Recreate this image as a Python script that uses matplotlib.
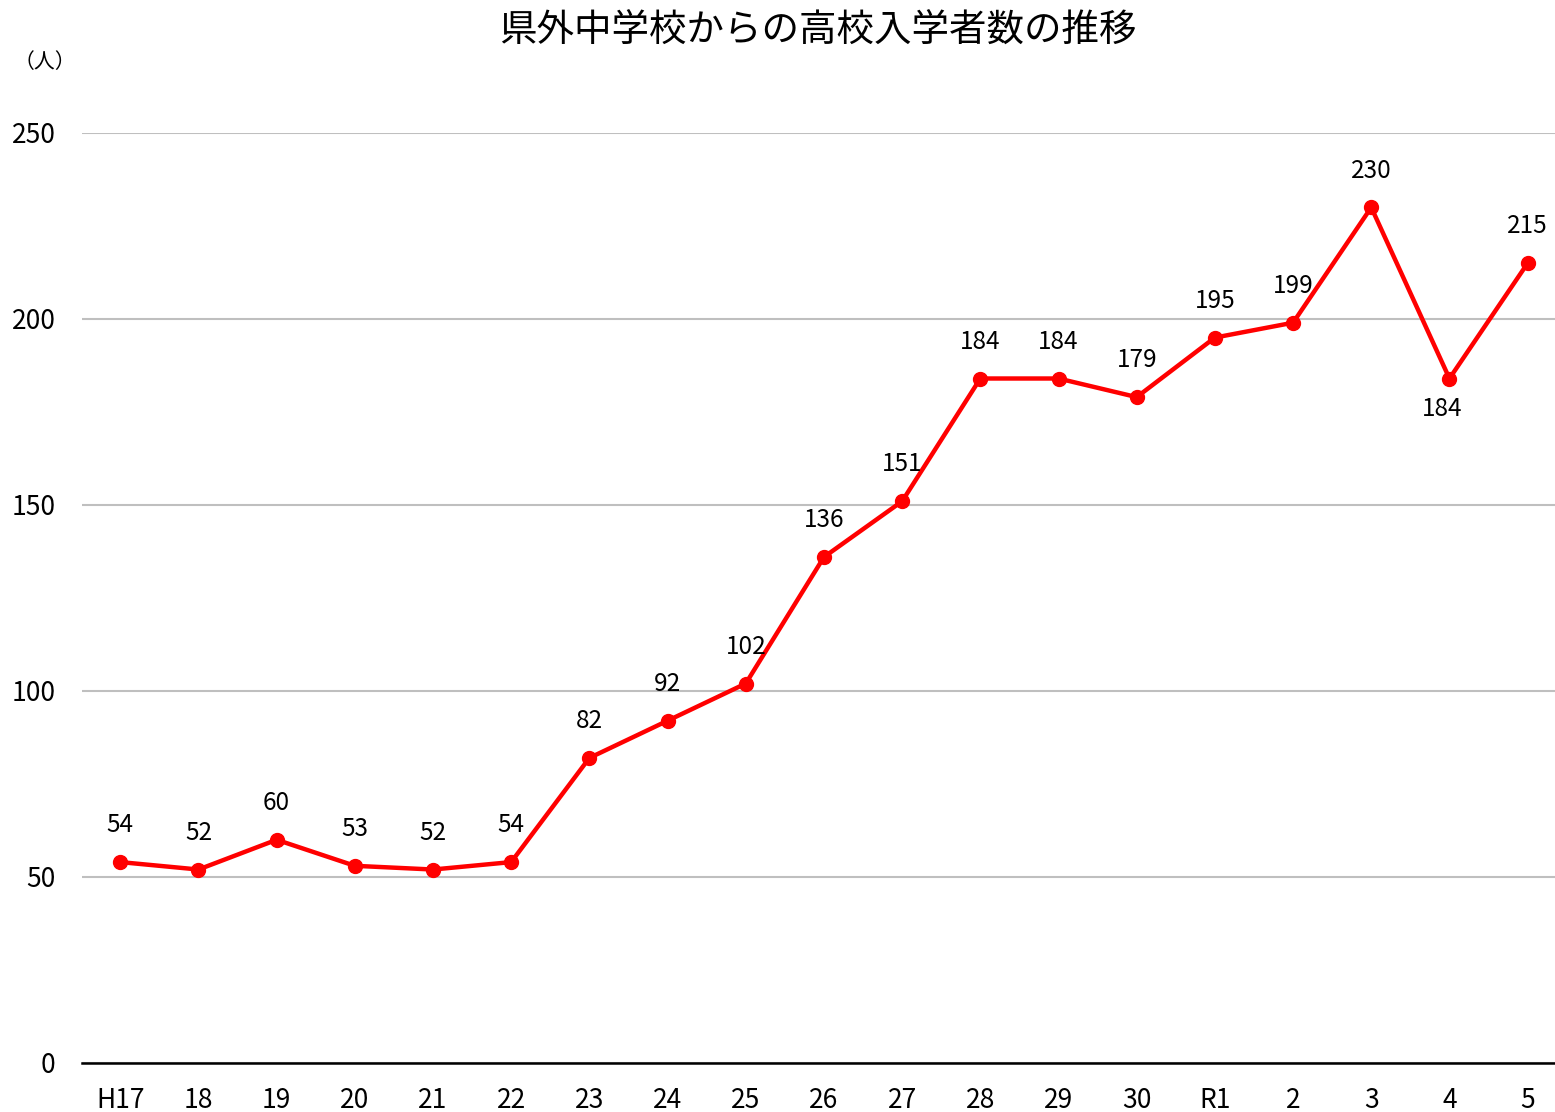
import matplotlib
matplotlib.use("Agg")
import matplotlib.pyplot as plt

plt.rcParams["font.family"] = ["Noto Sans CJK JP", "DejaVu Sans"]

years = ["H17", "18", "19", "20", "21", "22", "23", "24", "25", "26",
         "27", "28", "29", "30", "R1", "2", "3", "4", "5"]
students = [54, 52, 60, 53, 52, 54, 82, 92, 102, 136,
            151, 184, 184, 179, 195, 199, 230, 184, 215]
# labels drawn below the point instead of above
below = {17}

fig = plt.figure(figsize=(15.55, 11.12), dpi=100)
ax = fig.add_axes([0.0527, 0.0441, 0.9473, 0.8363])

x = list(range(len(years)))
ax.plot(x, students, color="#ff0000", lw=3.2, marker="o", ms=10, zorder=3,
        clip_on=False)

for i, v in enumerate(students):
    if i in below:
        ax.annotate(str(v), (i, v), xytext=(-5, -22), textcoords="offset points",
                    ha="center", va="center", fontsize=17.5)
    else:
        ax.annotate(str(v), (i, v), xytext=(0, 26.5), textcoords="offset points",
                    ha="center", va="center", fontsize=17.5)

ax.set_xlim(-0.49, 18.35)
ax.set_ylim(0, 250)
ax.set_yticks(range(0, 251, 50))
ax.set_xticks(x)
ax.set_xticklabels(years)
ax.tick_params(axis="both", length=0, labelsize=19)
ax.tick_params(axis="y", pad=19)
ax.tick_params(axis="x", pad=17.5)
ax.grid(axis="y", color="#bfbfbf", lw=1.5)
ax.set_axisbelow(True)
for s in ["top", "right", "left"]:
    ax.spines[s].set_visible(False)
ax.spines["bottom"].set_linewidth(1.8)
ax.spines["bottom"].set_zorder(2)

fig.text(0.526, 0.972, "県外中学校からの高校入学者数の推移", ha="center", va="center",
         fontsize=27)
fig.text(0.029, 0.944, "（人）", ha="center", va="center", fontsize=15)

fig.savefig("out.png", dpi=100)
